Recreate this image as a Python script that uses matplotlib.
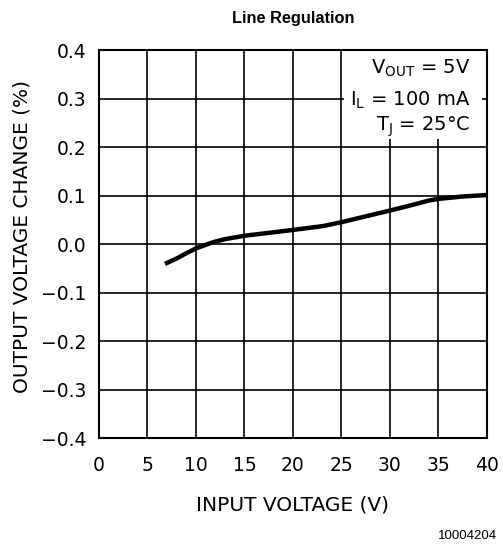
import matplotlib
matplotlib.use("Agg")
import matplotlib.pyplot as plt
from matplotlib.patches import Rectangle

# curve
vin = [6.8, 8.0, 9.0, 10.0, 11.8, 13.0, 15.0, 17.5, 20.0, 23.1, 25.0, 27.5, 30.0, 32.0, 34.1, 35.0, 37.5, 40.0]
dvout = [-0.041, -0.030, -0.019, -0.009, 0.004, 0.010, 0.017, 0.023, 0.029, 0.037, 0.045, 0.057, 0.069, 0.079, 0.090, 0.093, 0.098, 0.101]

xticks = [0, 5, 10, 15, 20, 25, 30, 35, 40]
yticks = [-0.4, -0.3, -0.2, -0.1, 0.0, 0.1, 0.2, 0.3, 0.4]
conditions = ["V$_{\\mathrm{OUT}}$ = 5V", "I$_{\\mathrm{L}}$ = 100 mA", "T$_{\\mathrm{J}}$ = 25\u00b0C"]

FONT = "DejaVu Sans"
plt.rcParams["mathtext.fontset"] = "dejavusans"

fig = plt.figure(figsize=(5.03, 5.46), dpi=100)
ax = fig.add_axes([0.1968, 0.1978, 0.7712, 0.7106])

ax.plot(vin, dvout, color="black", lw=3.2, solid_capstyle="butt", zorder=3)
ax.set_xlim(0, 40); ax.set_ylim(-0.4, 0.4)
ax.set_xticks(xticks); ax.set_yticks(yticks)
ax.set_xticklabels([str(v) for v in xticks], family=FONT, fontsize=13.5)
ax.set_yticklabels([f"{v:.1f}".replace("-", "\u2212") for v in yticks], family=FONT, fontsize=13.5)
ax.tick_params(axis="x", length=0, pad=13)
ax.tick_params(axis="y", length=0, pad=9)
ax.grid(True, color="black", lw=1.2)
for s in ax.spines.values():
    s.set_linewidth(1.5)

ax.set_xlabel("INPUT VOLTAGE (V)", family=FONT, fontsize=14.5, va="center")
ax.xaxis.set_label_coords(0.5, -0.173)
ax.set_ylabel("OUTPUT VOLTAGE CHANGE (%)", family=FONT, fontsize=14.5, va="center")
ax.yaxis.set_label_coords(-0.198, 0.52)

# white panel behind the conditions (covers grid, not spines)
ax.add_patch(Rectangle((0.631, 0.771), 0.356, 0.229, transform=ax.transAxes,
                       facecolor="white", edgecolor="none", zorder=2))
for txt, yy in zip(conditions, [0.952, 0.870, 0.803]):
    ax.text(0.958, yy, txt, transform=ax.transAxes, ha="right", va="center",
            family=FONT, fontsize=14, zorder=4)

fig.text(0.583, 0.966, "Line Regulation", ha="center", va="center",
         family="Liberation Sans", fontweight="bold", fontsize=11.8)
fig.text(0.988, 0.0183, "10004204", ha="right", va="center", family="Liberation Sans", fontsize=9.5)

fig.savefig("out.png", dpi=100)
